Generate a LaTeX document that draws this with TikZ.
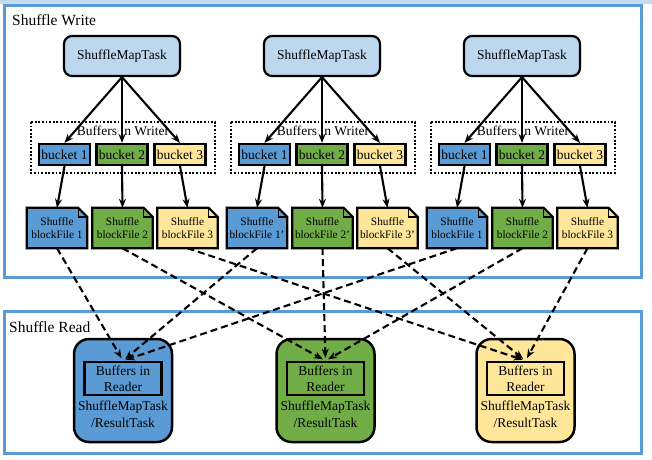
\documentclass[tikz,border=0pt]{standalone}
\usepackage{fontspec}
\setmainfont{Liberation Serif}
\usetikzlibrary{arrows.meta,backgrounds}
\definecolor{frameblue}{HTML}{5B9BD5}
\definecolor{bandblue}{HTML}{C5DCF0}
\definecolor{taskblue}{HTML}{BDD7EE}
\definecolor{cblue}{HTML}{5B9BD5}
\definecolor{cgreen}{HTML}{70AD47}
\definecolor{cyellow}{HTML}{FFE699}
\newcommand{\blockfile}[4]{%
  \node[bfn] (#1) at (#2) {#4};
  \begin{scope}[on background layer]
    \filldraw[fill=#3, line width=2.2pt, line join=miter]
      (#1.south west) -- (#1.north west) -- ([xshift=-9pt]#1.north east)
      -- ([yshift=-9pt]#1.north east) -- (#1.south east) -- cycle;
    \draw[line width=1.4pt]
      ([xshift=-9pt]#1.north east) -- ([xshift=-9pt,yshift=-9pt]#1.north east)
      -- ([yshift=-9pt]#1.north east);
  \end{scope}}
\begin{document}
\begin{tikzpicture}[x=1pt,y=-1pt,
  every node/.style={font=\rmfamily},
  frame/.style={draw=frameblue, line width=3pt},
  title/.style={anchor=west, inner sep=0pt, font=\rmfamily\fontsize{15.5}{18}\selectfont},
  task/.style={draw, line width=2.2pt, rounded corners=8pt, fill=taskblue,
    minimum width=116pt, minimum height=40pt, inner sep=0pt,
    font=\rmfamily\fontsize{13.5}{16}\selectfont},
  dotbox/.style={line width=1.8pt, dash pattern=on 1.8pt off 1.8pt},
  wlabel/.style={inner sep=0pt, font=\rmfamily\fontsize{13.5}{16}\selectfont},
  bucketbox/.style={draw, line width=2.2pt, minimum width=51pt, minimum height=21pt,
    inner sep=0pt, font=\rmfamily\fontsize{13.5}{16}\selectfont},
  bfn/.style={minimum width=60pt, minimum height=40pt, inner sep=0pt, align=center,
    font=\rmfamily\fontsize{11.3}{13}\selectfont},
  reader/.style={draw, line width=2.5pt, rounded corners=15pt, minimum width=98pt,
    minimum height=103pt, inner sep=0pt},
  innerbox/.style={draw, line width=2.5pt, minimum width=77pt, minimum height=33pt,
    inner sep=0pt, align=center, font=\rmfamily\fontsize{13.5}{16}\selectfont},
  rtext/.style={inner sep=0pt, align=center, font=\rmfamily\fontsize{13.5}{17}\selectfont},
  solidarrow/.style={line width=2.1pt, -{Stealth[length=9pt,width=7pt]}},
  dasharrow/.style={line width=2.1pt, dash pattern=on 7pt off 4pt, shorten >=3pt,
    -{Stealth[length=9pt,width=7pt]}}]
\useasboundingbox (0,0) rectangle (652,459);
\fill[bandblue] (0,0) rectangle (652,3.5);
\draw[frame] (4,5) rectangle (641,277);
\draw[frame] (4,311) rectangle (641,453);
\node[title] (sw) at (12,20) {Shuffle Write};
\node[title] (sr) at (9,327) {Shuffle Read};

\foreach \g/\i/\p in {0/1/{},200/2/{'},400/3/{}} {
  \node[task] (t\i) at (122+\g,56) {ShuffleMapTask};
  \draw[dotbox] (31+\g,122) rectangle (215+\g,173);
  \node[wlabel] (w\i) at (123+\g,131) {Buffers in Writer};
  \node[bucketbox, fill=cblue] (b\i1) at (64.5+\g,154.5) {bucket 1};
  \node[bucketbox, fill=cgreen] (b\i2) at (122+\g,154.5) {bucket 2};
  \node[bucketbox, fill=cyellow] (b\i3) at (180+\g,154.5) {bucket 3};
  \blockfile{f\i1}{57+\g,228}{cblue}{Shuffle\\blockFile 1\p}
  \blockfile{f\i2}{122.5+\g,228}{cgreen}{Shuffle\\blockFile 2\p}
  \blockfile{f\i3}{187.5+\g,228}{cyellow}{Shuffle\\blockFile 3\p}
  \foreach \c in {1,2,3} {
    \draw[solidarrow] (t\i.south) -- (b\i\c.north);
    \draw[solidarrow] (b\i\c.south) -- (f\i\c.north);
  }
}

\foreach \x/\c/\col in {123/1/cblue,325.5/2/cgreen,525.5/3/cyellow} {
  \node[reader, fill=\col] (r\c) at (\x,390.5) {};
  \node[innerbox] (in\c) at (\x,378.5) {Buffers in\\Reader};
  \node[rtext] (rt\c) at (\x,414.5) {ShuffleMapTask\\/ResultTask};
}

\foreach \c in {1,2,3} {
  \foreach \i in {1,2,3} {
    \draw[dasharrow] (f\i\c.south) -- (in\c.north);
  }
}
\end{tikzpicture}
\end{document}
